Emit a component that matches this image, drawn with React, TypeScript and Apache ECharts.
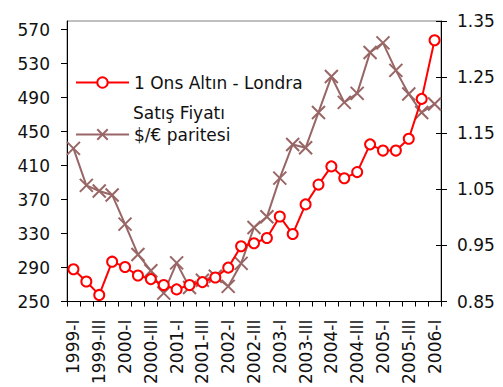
import React, { useEffect, useRef } from "react";
import * as echarts from "echarts";

const years = ["1999", "2000", "2001", "2002", "2003", "2004", "2005", "2006"];
const quarters = ["I", "II", "III", "IV"];
const categories: string[] = [];
years.forEach((y) => quarters.forEach((q) => categories.push(`${y}-${q}`)));
categories.splice(29);

const goldName = "1 Ons Altın - Londra Satış Fiyatı";
const euroName = "$/€ paritesi";

const goldValues = [
  288.0, 273.6, 257.8, 296.9, 290.7, 280.6, 276.4, 269.4, 264.3, 269.4,
  272.9, 278.3, 289.9, 315.1, 318.6, 324.8, 350.0, 329.4, 364.3, 387.6,
  409.0, 395.0, 402.3, 434.9, 427.6, 427.6, 441.5, 488.4, 557.3,
];
const euroValues = [
  1.123, 1.057, 1.047, 1.04, 0.988, 0.934, 0.905, 0.865, 0.919, 0.875,
  0.888, 0.895, 0.877, 0.918, 0.982, 1.001, 1.07, 1.13, 1.124, 1.187,
  1.251, 1.205, 1.221, 1.294, 1.311, 1.262, 1.22, 1.187, 1.202,
];
const leftTicks = [250, 290, 330, 370, 410, 450, 490, 530, 570];

const FONT = "DejaVu Sans";
const GOLD = "#ff0000";
const EURO = "#996666";

export default function App() {
  const ref = useRef<HTMLDivElement>(null);
  useEffect(() => {
    if (!ref.current) return;
    const chart = echarts.init(ref.current, undefined, { renderer: "svg" });
    chart.setOption({
      animation: false,
      backgroundColor: "#fff",
      textStyle: { fontFamily: FONT },
      grid: {
        left: 67,
        right: 62,
        top: 21,
        bottom: 82,
        show: true,
        borderColor: "#808080",
        borderWidth: 1,
      },
      legend: [
        {
          data: [goldName],
          left: 75,
          top: 74,
          padding: 0,
          itemWidth: 53,
          itemHeight: 13,
          formatter: () => "1 Ons Altın - Londra",
          textStyle: { fontFamily: FONT, fontSize: 17, color: "#111" },
        },
        {
          data: [euroName],
          left: 75,
          top: 126,
          padding: 0,
          itemWidth: 53,
          itemHeight: 13,
          textStyle: { fontFamily: FONT, fontSize: 17, color: "#111" },
        },
      ],
      graphic: [
        {
          type: "text",
          left: 133,
          top: 104,
          style: {
            text: "Satış Fiyatı",
            fontFamily: FONT,
            fontSize: 17,
            fill: "#111",
          },
        },
      ],
      xAxis: {
        type: "category",
        data: categories,
        boundaryGap: true,
        axisLine: { lineStyle: { color: "#000", width: 1 } },
        axisTick: { show: true, interval: 0, length: 5, lineStyle: { color: "#000" } },
        axisLabel: {
          interval: 1,
          rotate: 90,
          margin: 18,
          fontFamily: FONT,
          fontSize: 17,
          color: "#111",
        },
        splitLine: { show: false },
      },
      yAxis: [
        {
          type: "value",
          min: 250,
          max: 580,
          position: "left",
          axisLine: { show: true, lineStyle: { color: "#000", width: 1 } },
          axisTick: {
            show: true,
            length: 6,
            customValues: leftTicks,
            lineStyle: { color: "#000" },
          },
          axisLabel: {
            customValues: leftTicks,
            margin: 17,
            fontFamily: FONT,
            fontSize: 17,
            color: "#111",
          },
          splitLine: { show: false },
        },
        {
          type: "value",
          min: 0.85,
          max: 1.35,
          interval: 0.1,
          position: "right",
          axisLine: { show: true, lineStyle: { color: "#000", width: 1 } },
          axisTick: { show: true, length: 6, lineStyle: { color: "#000" } },
          axisLabel: {
            margin: 16,
            fontFamily: FONT,
            fontSize: 17,
            color: "#111",
            formatter: (v: number) => v.toFixed(2),
          },
          splitLine: { show: false },
        },
        {
          type: "value",
          min: 0.85,
          max: 1.35,
          interval: 0.1,
          position: "right",
          axisLine: { show: false },
          axisTick: { show: true, inside: true, length: 5, lineStyle: { color: "#000" } },
          axisLabel: { show: false },
          splitLine: { show: false },
        },
      ],
      series: [
        {
          name: euroName,
          type: "line",
          yAxisIndex: 1,
          data: euroValues,
          symbol: "path://M0,0L10,10M10,0L0,10",
          symbolSize: 13,
          showSymbol: true,
          showAllSymbol: true,
          lineStyle: { color: EURO, width: 2 },
          itemStyle: { color: EURO, borderColor: EURO, borderWidth: 2 },
          z: 2,
        },
        {
          name: goldName,
          type: "line",
          yAxisIndex: 0,
          data: goldValues,
          symbol: "emptyCircle",
          symbolSize: 10,
          showSymbol: true,
          showAllSymbol: true,
          lineStyle: { color: GOLD, width: 2 },
          itemStyle: { color: GOLD, borderColor: GOLD, borderWidth: 2 },
          z: 3,
        },
      ],
    });
    return () => chart.dispose();
  }, []);
  return (
    <div
      ref={ref}
      style={{ position: "fixed", left: 0, top: 0, width: 503, height: 387 }}
    />
  );
}
